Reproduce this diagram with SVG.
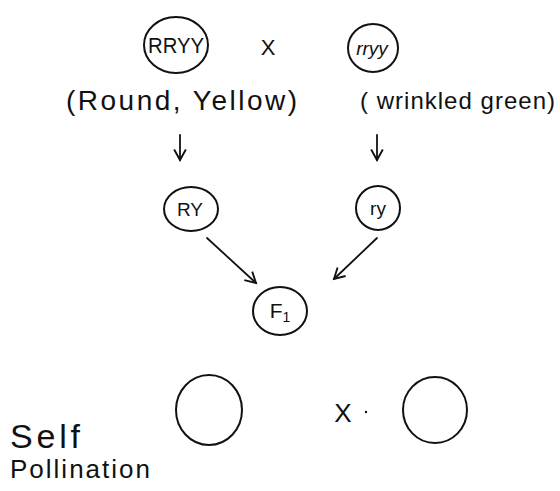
<svg xmlns="http://www.w3.org/2000/svg" width="560" height="491" viewBox="0 0 560 491">
<defs>
<style>
.c{fill:none;stroke:#111;stroke-width:2}
.t{font-family:"Liberation Sans",Arial,sans-serif;fill:#111;text-anchor:middle}
.s{font-family:"Liberation Sans",Arial,sans-serif;fill:#111}
.l{stroke:#111;stroke-width:1.8;fill:none;stroke-linecap:round;stroke-linejoin:round}
</style>
<marker id="ah" viewBox="0 0 12 12" refX="10" refY="6" markerWidth="14" markerHeight="14" markerUnits="userSpaceOnUse" orient="auto">
<path d="M1,1 L10,6 L1,11" fill="none" stroke="#111" stroke-width="1.6"/>
</marker>
</defs>
<rect width="560" height="491" fill="#fff"/>
<g id="p1"><ellipse class="c" cx="176" cy="45" rx="32" ry="28"/><text class="t" x="176" y="53" font-size="22" textLength="56" lengthAdjust="spacingAndGlyphs">RRYY</text></g>
<g id="cross1"><text class="t" x="268" y="55" font-size="22">X</text></g>
<g id="p2"><ellipse class="c" cx="373" cy="48" rx="25" ry="24"/><text class="t" x="372" y="55" font-size="19" font-style="italic">rryy</text></g>
<g id="lab1"><text class="s" x="66" y="110" font-size="28" textLength="231" lengthAdjust="spacing">(Round, Yellow)</text></g>
<g id="lab2"><text class="s" x="360" y="109" font-size="24" textLength="195" lengthAdjust="spacing">( wrinkled green)</text></g>
<g id="g1"><ellipse class="c" cx="191" cy="209" rx="27" ry="22"/><text class="t" x="190" y="216" font-size="19">RY</text></g>
<g id="g2"><ellipse class="c" cx="378" cy="208" rx="22" ry="22"/><text class="t" x="378" y="215" font-size="19">ry</text></g>
<g id="f1"><ellipse class="c" cx="280" cy="311" rx="27" ry="24"/><text class="t" x="280" y="318" font-size="21">F<tspan font-size="14" dy="4">1</tspan></text></g>
<g id="o1"><ellipse class="c" cx="209" cy="410" rx="33" ry="35"/></g>
<g id="cross2"><text class="t" x="343" y="422" font-size="26">X</text><circle cx="366" cy="412" r="1.2" fill="#111"/></g>
<g id="o2"><ellipse class="c" cx="435" cy="410" rx="32" ry="33"/></g>
<g id="sp"><text class="s" x="10" y="448" font-size="34" textLength="70" lengthAdjust="spacing">Self</text><text class="s" x="10" y="478" font-size="26" textLength="140" lengthAdjust="spacing">Pollination</text></g>
<g id="connectors">
<line class="l" x1="180" y1="135" x2="180" y2="160" marker-end="url(#ah)"/>
<line class="l" x1="377" y1="135" x2="377" y2="160" marker-end="url(#ah)"/>
<line class="l" x1="207" y1="238" x2="256" y2="283" marker-end="url(#ah)"/>
<line class="l" x1="377" y1="238" x2="334" y2="279" marker-end="url(#ah)"/>
</g>
</svg>
